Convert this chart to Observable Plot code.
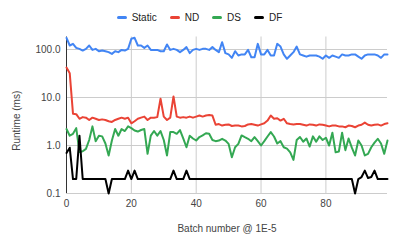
<!DOCTYPE html>
<html>
<head>
<meta charset="utf-8">
<script src="https://cdn.jsdelivr.net/npm/d3@7"></script>
<script src="https://cdn.jsdelivr.net/npm/@observablehq/plot@0.6"></script>
<style>
  html, body { margin: 0; padding: 0; background: #fff; }
  body { width: 399px; height: 246px; overflow: hidden; font-family: "Liberation Sans", Arial, sans-serif; }
  #legend { height: 26px; padding-top: 4px; display: flex; justify-content: center; align-items: center; font-size: 10px; color: #222; }
  .item { display: flex; align-items: center; margin: 0 6.5px; }
  .sw { width: 10px; height: 3px; border-radius: 1.5px; margin-right: 5px; }
</style>
</head>
<body>
<div id="legend"></div>
<div id="chart"></div>
<script>
const seriesNames = ["Static", "ND", "DS", "DF"];
const seriesColors = ["#4285F4", "#EA4335", "#34A853", "#000000"];

const staticRuntime = [175,121,131,108,103,95,103,121,98,103,
  92,95,92,88,81,92,88,98,95,103,
  167,175,121,121,108,121,98,98,98,92,
  92,127,98,103,98,88,98,112,84,98,
  103,98,103,103,98,112,98,88,142,84,
  79,67,92,75,79,79,98,69,69,131,
  79,79,98,75,75,131,115,79,64,75,
  88,115,79,75,71,75,75,75,71,64,
  75,67,75,71,67,79,75,75,79,79,
  71,64,75,79,79,79,75,67,79,79];

const ndRuntime = [42,32,4.6,4.5,3.6,3.9,3.8,3.4,3.8,3.6,
  3.4,3.5,3.4,3.2,3.1,3.4,3.6,3.8,3.6,3.8,
  2.9,3.2,3.6,3.8,4.0,3.4,3.8,3.8,3.9,9.4,
  4.0,3.4,3.8,10.5,4.0,3.8,3.9,3.8,4.0,3.8,
  4.0,4.2,4.0,4.2,4.3,4.2,2.7,2.8,2.6,2.7,
  2.75,2.55,2.6,2.6,2.5,2.55,2.75,2.8,2.7,2.6,
  2.75,2.9,3.3,4.2,3.6,3.7,3.3,3.6,2.9,2.8,
  2.75,2.8,2.8,2.7,2.6,2.75,2.7,2.6,2.75,2.7,
  2.6,2.5,2.6,2.6,2.5,2.5,2.4,2.6,2.55,2.4,
  2.6,2.7,3.0,2.7,2.6,2.7,2.75,2.6,2.8,2.9];

const dsRuntime = [2.2,1.6,1.75,2.3,0.73,0.76,0.85,1.3,2.5,1.22,
  1.6,1.55,1.1,0.62,1.27,2.2,1.6,2.2,2.0,2.5,
  2.3,2.05,1.95,2.1,2.2,0.67,1.6,2.0,1.6,2.0,
  1.3,0.62,1.9,1.9,1.75,2.1,1.4,0.92,1.6,1.4,
  1.27,1.5,1.62,1.8,1.75,1.3,1.23,1.27,1.38,1.27,
  1.08,0.57,0.92,1.08,1.62,1.49,1.38,1.23,1.49,1.23,
  1.0,1.23,1.54,1.9,1.54,1.1,1.23,0.92,0.86,0.72,
  0.5,1.3,1.5,1.2,1.4,0.95,1.55,1.2,1.55,1.3,
  1.45,1.0,1.85,0.72,0.75,1.85,0.8,1.4,0.9,0.62,
  1.27,1.0,0.62,0.67,0.92,1.15,1.38,1.1,0.67,1.27];

const dfRuntime = [0.7,0.9,0.2,0.2,1.6,0.2,0.2,0.2,0.2,0.2,
  0.2,0.2,0.2,0.1,0.2,0.2,0.2,0.2,0.2,0.3,
  0.2,0.3,0.2,0.2,0.2,0.2,0.2,0.2,0.2,0.2,
  0.2,0.2,0.2,0.3,0.2,0.2,0.2,0.3,0.2,0.2,
  0.2,0.2,0.2,0.2,0.2,0.2,0.2,0.2,0.2,0.2,
  0.2,0.2,0.2,0.2,0.2,0.2,0.2,0.2,0.2,0.2,
  0.2,0.2,0.2,0.2,0.2,0.2,0.2,0.2,0.2,0.2,
  0.2,0.2,0.2,0.2,0.2,0.2,0.2,0.2,0.2,0.2,
  0.2,0.2,0.2,0.2,0.2,0.2,0.2,0.2,0.2,0.1,
  0.2,0.22,0.3,0.21,0.22,0.3,0.2,0.2,0.2,0.2];

const yTicks = [0.1, 1, 10, 100];
const xTicks = [0, 20, 40, 60, 80];
const xGridTicks = [20, 40, 60, 80];
const yTitle = "Runtime (ms)";
const xTitle = "Batch number @ 1E-5";

const seriesValues = [staticRuntime, ndRuntime, dsRuntime, dfRuntime];
const rows = seriesNames.flatMap((name, s) =>
  seriesValues[s].map((v, i) => ({series: name, batch: i, runtime: v})));

// legend
const legend = document.getElementById("legend");
seriesNames.forEach((n, i) => {
  const it = document.createElement("div");
  it.className = "item";
  it.innerHTML = `<div class="sw" style="background:${seriesColors[i]}"></div><span>${n}</span>`;
  legend.appendChild(it);
});

const chart = Plot.plot({
  width: 399,
  height: 216,
  marginTop: 6.5,
  marginBottom: 53,
  marginLeft: 66,
  marginRight: 12,
  style: {fontFamily: "'Liberation Sans', Arial, sans-serif", fontSize: "10px", color: "#444", background: "#fff", overflow: "visible"},
  x: {domain: [0, 99]},
  y: {type: "log", domain: [0.1, 182]},
  color: {domain: seriesNames, range: seriesColors},
  marks: [
    Plot.gridY(yTicks, {stroke: "#cccccc", strokeOpacity: 1}),
    Plot.gridX(xGridTicks, {stroke: "#cccccc", strokeOpacity: 1}),
    Plot.ruleX([0], {stroke: "#333333"}),
    Plot.axisY(yTicks, {tickSize: 0, tickPadding: 6, tickFormat: d3.format(".1f"), label: null, fill: "#444"}),
    Plot.text([yTitle], {frameAnchor: "left", rotate: -90, dx: -49.5, dy: 5.5, textAnchor: "middle", lineAnchor: "middle", fill: "#444"}),
    Plot.axisX(xTicks, {tickSize: 0, tickPadding: 6,
      label: xTitle, labelAnchor: "center", labelArrow: "none", labelOffset: 38, fill: "#444"}),
    Plot.line(rows, {x: "batch", y: "runtime", z: "series", stroke: "series", strokeWidth: 2, strokeLinejoin: "round"})
  ]
});
document.getElementById("chart").appendChild(chart);
</script>
</body>
</html>
